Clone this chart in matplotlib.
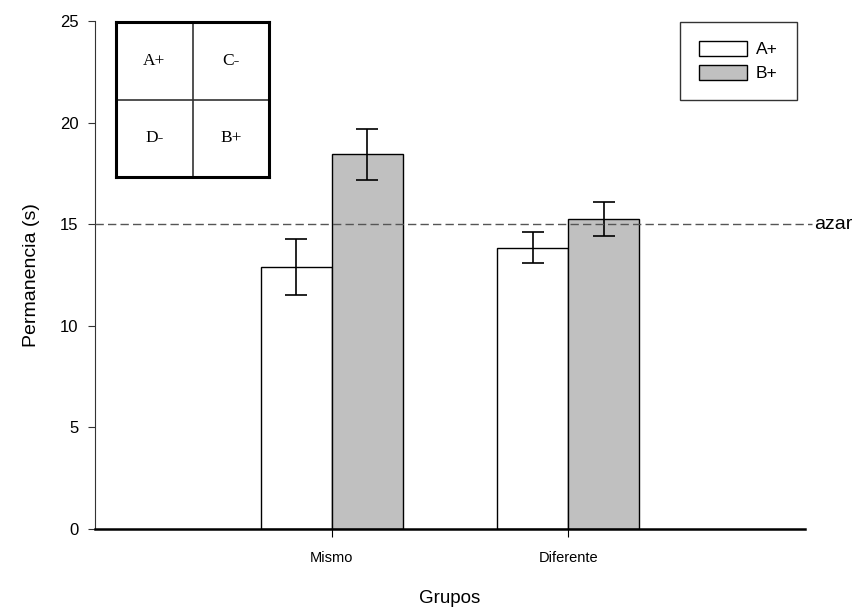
import numpy as np
import matplotlib.pyplot as plt

groups = ['Mismo', 'Diferente']
series = ['A+', 'B+']
a_vals = [12.9, 13.85]
b_vals = [18.45, 15.25]
a_err = [1.37, 0.78]
b_err = [1.25, 0.85]
chance = 15
grid_labels = [['A+', 'C-'], ['D-', 'B+']]

plt.rcParams['font.family'] = ['Liberation Sans', 'DejaVu Sans']

fig = plt.figure(figsize=(8.65, 6.13), dpi=100)
ax = fig.add_axes([0.1098, 0.137, 0.8208, 0.8287])

x = np.arange(len(groups))
w = 0.3
ax.bar(x - w / 2, a_vals, w, color='white', edgecolor='black', linewidth=1.0, label=series[0], zorder=2)
ax.bar(x + w / 2, b_vals, w, color='#c0c0c0', edgecolor='black', linewidth=1.0, label=series[1], zorder=2)
ax.errorbar(x - w / 2, a_vals, yerr=a_err, fmt='none', ecolor='black', elinewidth=1.2, capsize=8, capthick=1.2, zorder=3)
ax.errorbar(x + w / 2, b_vals, yerr=b_err, fmt='none', ecolor='black', elinewidth=1.2, capsize=8, capthick=1.2, zorder=3)

ax.axhline(chance, xmin=0, xmax=1.01, color='#555555', linestyle=(0, (6, 3)), linewidth=1.0, zorder=4, clip_on=False)
ax.text(1.013, chance, 'azar', transform=ax.get_yaxis_transform(), va='center', ha='left', fontsize=14)

ax.set_xlim(-1, 2)
ax.set_ylim(0, 25)
ax.set_xticks(x)
ax.set_xticklabels(groups, fontsize=10.5)
ax.set_yticks(np.arange(0, 26, 5))
ax.tick_params(axis='y', labelsize=12, direction='out', length=5, pad=7, color='#333333')
ax.tick_params(axis='x', direction='out', length=6, pad=10)
ax.spines['top'].set_visible(False)
ax.spines['right'].set_visible(False)
ax.spines['left'].set_color('#333333')
ax.spines['bottom'].set_linewidth(1.8)
ax.set_xlabel('Grupos', fontsize=13.5, labelpad=18)
ax.set_ylabel('Permanencia (s)', fontsize=14, labelpad=14)

leg = ax.legend(loc='upper right', bbox_to_anchor=(0.9887, 0.998), borderaxespad=0, fontsize=12.5,
                frameon=True, fancybox=False, edgecolor='black', handlelength=2.8, handleheight=0.9,
                handletextpad=0.5, borderpad=1.1, labelspacing=0.45)
leg.get_frame().set_linewidth(1.0)

# inset diagram of the arena
ins = fig.add_axes([116 / 865, 1 - 177 / 613, 153 / 865, 155 / 613])
ins.set_xlim(0, 2)
ins.set_ylim(0, 2)
ins.set_xticks([])
ins.set_yticks([])
for s in ins.spines.values():
    s.set_linewidth(2.2)
ins.axvline(1, color='#333333', linewidth=1.2)
ins.axhline(1, color='#333333', linewidth=1.2)
for r, row in enumerate(grid_labels):
    for c, lab in enumerate(row):
        ins.text(c + 0.5, 1.5 - r, lab, ha='center', va='center', fontsize=12.5, family='Liberation Serif')

fig.savefig('out.png', dpi=100)
